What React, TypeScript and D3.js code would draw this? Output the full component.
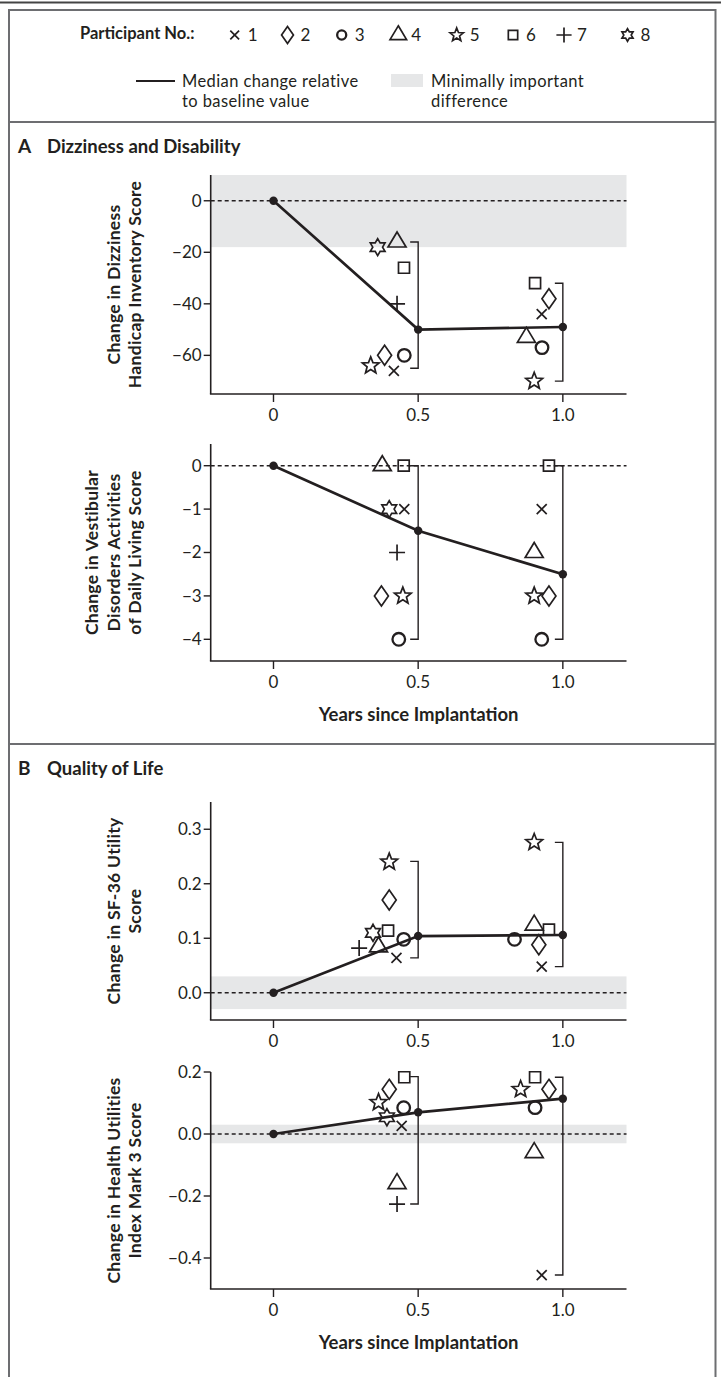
import React from "react";
import * as d3 from "d3";

// ---------- data ----------
const TIMEPOINTS = [0, 0.5, 1.0];
const X_TICKS = [0, 0.5, 1.0];
const X_TICK_LABELS = ["0", "0.5", "1.0"];
const PARTICIPANTS = [1, 2, 3, 4, 5, 6, 7, 8];

// Dizziness Handicap Inventory
const DHI_MEDIAN = [0, -50, -49];
const DHI_POINTS = [
  { p: 1, t: 0.416, v: -66 }, { p: 2, t: 0.384, v: -60 }, { p: 3, t: 0.452, v: -60 },
  { p: 4, t: 0.427, v: -16 }, { p: 5, t: 0.336, v: -64 }, { p: 6, t: 0.451, v: -26 },
  { p: 7, t: 0.427, v: -40 }, { p: 8, t: 0.36, v: -18 },
  { p: 1, t: 0.927, v: -44 }, { p: 2, t: 0.952, v: -38 }, { p: 3, t: 0.928, v: -57 },
  { p: 4, t: 0.874, v: -53 }, { p: 5, t: 0.901, v: -70 }, { p: 6, t: 0.904, v: -32 },
];
const DHI_RANGES = [{ t: 0.5, lo: -65, hi: -16 }, { t: 1.0, lo: -70, hi: -32 }];
const DHI_TICKS = [0, -20, -40, -60];
const DHI_MID = [-18, 10];

// Vestibular Disorders Activities of Daily Living
const VADL_MEDIAN = [0, -1.5, -2.5];
const VADL_POINTS = [
  { p: 4, t: 0.376, v: 0 }, { p: 6, t: 0.45, v: 0 }, { p: 8, t: 0.4, v: -1 },
  { p: 1, t: 0.452, v: -1 }, { p: 7, t: 0.427, v: -2 }, { p: 2, t: 0.373, v: -3 },
  { p: 5, t: 0.447, v: -3 }, { p: 3, t: 0.433, v: -4 },
  { p: 6, t: 0.952, v: 0 }, { p: 1, t: 0.927, v: -1 }, { p: 4, t: 0.901, v: -2 },
  { p: 5, t: 0.901, v: -3 }, { p: 2, t: 0.952, v: -3 }, { p: 3, t: 0.927, v: -4 },
];
const VADL_RANGES = [{ t: 0.5, lo: -4, hi: 0 }, { t: 1.0, lo: -4, hi: 0 }];
const VADL_TICKS = [0, -1, -2, -3, -4];

// SF-36 utility
const SF36_MEDIAN = [0, 0.104, 0.106];
const SF36_POINTS = [
  { p: 5, t: 0.4, v: 0.24 }, { p: 2, t: 0.4, v: 0.17 }, { p: 8, t: 0.344, v: 0.11 },
  { p: 6, t: 0.396, v: 0.114 }, { p: 3, t: 0.45, v: 0.098 }, { p: 4, t: 0.363, v: 0.084 },
  { p: 7, t: 0.296, v: 0.082 }, { p: 1, t: 0.425, v: 0.064 },
  { p: 5, t: 0.901, v: 0.276 }, { p: 4, t: 0.901, v: 0.124 }, { p: 6, t: 0.952, v: 0.116 },
  { p: 3, t: 0.833, v: 0.098 }, { p: 2, t: 0.917, v: 0.088 }, { p: 1, t: 0.927, v: 0.048 },
];
const SF36_RANGES = [{ t: 0.5, lo: 0.064, hi: 0.241 }, { t: 1.0, lo: 0.048, hi: 0.276 }];
const SF36_TICKS = [0.0, 0.1, 0.2, 0.3];
const SF36_MID = [-0.03, 0.03];

// Health Utilities Index Mark 3
const HUI_MEDIAN = [0, 0.07, 0.114];
const HUI_POINTS = [
  { p: 6, t: 0.452, v: 0.183 }, { p: 2, t: 0.4, v: 0.144 }, { p: 5, t: 0.363, v: 0.102 },
  { p: 3, t: 0.45, v: 0.085 }, { p: 8, t: 0.392, v: 0.054 }, { p: 1, t: 0.443, v: 0.026 },
  { p: 4, t: 0.427, v: -0.16 }, { p: 7, t: 0.427, v: -0.226 },
  { p: 6, t: 0.904, v: 0.183 }, { p: 5, t: 0.854, v: 0.144 }, { p: 2, t: 0.952, v: 0.144 },
  { p: 3, t: 0.904, v: 0.085 }, { p: 4, t: 0.901, v: -0.06 }, { p: 1, t: 0.927, v: -0.455 },
];
const HUI_RANGES = [{ t: 0.5, lo: -0.226, hi: 0.185 }, { t: 1.0, lo: -0.455, hi: 0.183 }];
const HUI_TICKS = [0.2, 0.0, -0.2, -0.4];
const HUI_MID = [-0.03, 0.03];

// ---------- style ----------
const INK = "#231f20";
const FRAME = "#6d6e71";
const SHADE = "#e6e7e8";
const FONT = "Lato, 'Open Sans', sans-serif";

function fmtTick(v: number, digits: number) {
  const s = Math.abs(v).toFixed(digits);
  return v < 0 ? "\u2212" + s : s;
}

function starPath(points: number, outer: number, inner: number) {
  const pts: string[] = [];
  for (let i = 0; i < points * 2; i++) {
    const r = i % 2 === 0 ? outer : inner;
    const a = (Math.PI * i) / points - Math.PI / 2;
    pts.push(`${(r * Math.cos(a)).toFixed(2)},${(r * Math.sin(a)).toFixed(2)}`);
  }
  return "M" + pts.join("L") + "Z";
}

function symbolPath(p: number, s: number) {
  switch (p) {
    case 1: {
      const h = 5 * s;
      return `M${-h},${-h}L${h},${h}M${-h},${h}L${h},${-h}`;
    }
    case 2: {
      const w = 7 * s, hh = 10 * s;
      return `M0,${-hh}L${w},0L0,${hh}L${-w},0Z`;
    }
    case 3: {
      const r = 6.3 * s;
      return `M${r},0A${r},${r} 0 1,1 ${-r},0A${r},${r} 0 1,1 ${r},0Z`;
    }
    case 4:
      return `M0,${-10 * s}L${9 * s},${5 * s}L${-9 * s},${5 * s}Z`;
    case 5:
      return starPath(5, 8.8 * s, 3.8 * s);
    case 6: {
      const h = 5.5 * s;
      return `M${-h},${-h}L${h},${-h}L${h},${h}L${-h},${h}Z`;
    }
    case 7: {
      const h = 8 * s;
      return `M${-h},0L${h},0M0,${-h}L0,${h}`;
    }
    default:
      return starPath(6, 8.5 * s, 4.9 * s);
  }
}

function Marker({ p, x, y, s = 1 }: { p: number; x: number; y: number; s?: number }) {
  return (
    <path
      d={symbolPath(p, s)}
      transform={`translate(${x},${y})`}
      fill="none"
      stroke={INK}
      strokeWidth={p === 3 ? 2.3 : 1.7}
      strokeLinejoin="miter"
    />
  );
}

// ---------- layout ----------
const X_LEFT = 210.7;
const X_RIGHT = 626.5;
const xScale = d3.scaleLinear().domain([-0.217, 1.22]).range([X_LEFT, X_RIGHT]);

type Pt = { p: number; t: number; v: number };
type Cfg = {
  top: number;
  bottom: number;
  domain: [number, number];
  ticks: number[];
  digits: number;
  median: number[];
  points: Pt[];
  ranges: { t: number; lo: number; hi: number }[];
  mid?: number[];
  label: string[];
  xTitle: boolean;
};

const PLOTS: Cfg[] = [
  {
    top: 175, bottom: 394, domain: [-75, 10], ticks: DHI_TICKS, digits: 0,
    median: DHI_MEDIAN, points: DHI_POINTS, ranges: DHI_RANGES, mid: DHI_MID,
    label: ["Change in Dizziness", "Handicap Inventory Score"], xTitle: false,
  },
  {
    top: 444, bottom: 661, domain: [-4.5, 0.5], ticks: VADL_TICKS, digits: 0,
    median: VADL_MEDIAN, points: VADL_POINTS, ranges: VADL_RANGES,
    label: ["Change in Vestibular", "Disorders Activities", "of Daily Living Score"], xTitle: true,
  },
  {
    top: 802, bottom: 1020, domain: [-0.05, 0.35], ticks: SF36_TICKS, digits: 1,
    median: SF36_MEDIAN, points: SF36_POINTS, ranges: SF36_RANGES, mid: SF36_MID,
    label: ["Change in SF-36 Utility", "Score"], xTitle: false,
  },
  {
    top: 1072, bottom: 1289, domain: [-0.5, 0.2], ticks: HUI_TICKS, digits: 1,
    median: HUI_MEDIAN, points: HUI_POINTS, ranges: HUI_RANGES, mid: HUI_MID,
    label: ["Change in Health Utilities", "Index Mark 3 Score"], xTitle: true,
  },
];

function Plot({ cfg }: { cfg: Cfg }) {
  const x = xScale;
  const y = d3.scaleLinear().domain(cfg.domain).range([cfg.bottom, cfg.top]);
  const line = d3
    .line<number>()
    .x((_, i) => x(TIMEPOINTS[i]))
    .y((d) => y(d));
  const cy = (cfg.top + cfg.bottom) / 2;
  const n = cfg.label.length;
  const lastX = 135;
  return (
    <g>
      {cfg.mid && (
        <rect
          x={X_LEFT}
          width={X_RIGHT - X_LEFT}
          y={y(cfg.mid[1])}
          height={y(cfg.mid[0]) - y(cfg.mid[1])}
          fill={SHADE}
        />
      )}
      <line x1={X_LEFT} x2={X_RIGHT} y1={y(0)} y2={y(0)} stroke={INK} strokeWidth={1.4} strokeDasharray="4,3" />
      {/* axes */}
      <line x1={X_LEFT} x2={X_LEFT} y1={cfg.top} y2={cfg.bottom} stroke={INK} strokeWidth={1.6} />
      <line x1={X_LEFT - 0.8} x2={X_RIGHT} y1={cfg.bottom} y2={cfg.bottom} stroke={INK} strokeWidth={1.6} />
      {cfg.ticks.map((t) => (
        <g key={"yt" + t}>
          <line x1={X_LEFT - 7} x2={X_LEFT} y1={y(t)} y2={y(t)} stroke={INK} strokeWidth={1.4} />
          <text x={X_LEFT - 9} y={y(t)} dy="0.35em" textAnchor="end" fontSize={17} fill={INK} fontFamily={FONT}>
            {fmtTick(t, cfg.digits)}
          </text>
        </g>
      ))}
      {X_TICKS.map((t, i) => (
        <g key={"xt" + t}>
          <line x1={x(t)} x2={x(t)} y1={cfg.bottom} y2={cfg.bottom + 8} stroke={INK} strokeWidth={1.4} />
          <text x={x(t)} y={cfg.bottom + 27} textAnchor="middle" fontSize={17} fill={INK} fontFamily={FONT}>
            {X_TICK_LABELS[i]}
          </text>
        </g>
      ))}
      {cfg.xTitle && (
        <text
          x={(X_LEFT + X_RIGHT) / 2}
          y={cfg.bottom + 60}
          textAnchor="middle"
          fontSize={18.5}
          fontWeight={700}
          fill={INK}
          fontFamily={FONT}
        >
          Years since Implantation
        </text>
      )}
      {cfg.label.map((l, i) => {
        const lx = lastX - (n - 1 - i) * 21.5;
        return (
          <text
            key={l}
            transform={`translate(${lx},${cy}) rotate(-90)`}
            dy="0.35em"
            textAnchor="middle"
            fontSize={17.5}
            fontWeight={700}
            fill={INK}
            fontFamily={FONT}
            letterSpacing={0.3}
          >
            {l}
          </text>
        );
      })}
      {/* range brackets */}
      {cfg.ranges.map((r) => {
        const bx = x(r.t);
        const y1 = y(r.hi), y2 = y(r.lo);
        return (
          <path
            key={"r" + r.t}
            d={`M${bx - 8},${y1}L${bx},${y1}L${bx},${y2}L${bx - 8},${y2}`}
            fill="none"
            stroke={INK}
            strokeWidth={1.4}
          />
        );
      })}
      {/* participants */}
      {cfg.points.map((d, i) => (
        <Marker key={"m" + i} p={d.p} x={x(d.t)} y={y(d.v)} />
      ))}
      {/* median */}
      <path d={line(cfg.median) || ""} fill="none" stroke={INK} strokeWidth={2.7} />
      {cfg.median.map((v, i) => (
        <circle key={"md" + i} cx={x(TIMEPOINTS[i])} cy={y(v)} r={4.2} fill={INK} />
      ))}
    </g>
  );
}

const LEGEND_MARK_X = [234.7, 287.5, 341.7, 398.3, 456.7, 513, 564, 627.5];
const LEGEND_MARK_S = [0.88, 0.85, 0.72, 0.92, 0.8, 0.85, 0.95, 0.75];

export default function App() {
  const legendText = { fontSize: 16.5, fill: INK, fontFamily: FONT, letterSpacing: 0.4 };
  return (
    <div style={{ position: "absolute", left: 0, top: 0, width: 721, height: 1377, background: "#fff" }}>
      <svg width={721} height={1377} style={{ display: "block" }}>
        <rect width={721} height={1377} fill="#fff" />
        {/* top rule and frame */}
        <line x1={0} x2={721} y1={2.5} y2={2.5} stroke="#444" strokeWidth={2.2} />
        <path d="M9,1377L9,10L715.5,10L715.5,1377" fill="none" stroke={FRAME} strokeWidth={2} />
        <line x1={9} x2={715.5} y1={122} y2={122} stroke={FRAME} strokeWidth={2} />
        <line x1={9} x2={715.5} y1={744} y2={744} stroke={FRAME} strokeWidth={2} />

        {/* legend */}
        <text x={80} y={39} fontSize={16.5} fontWeight={700} fill={INK} fontFamily={FONT}>
          Participant No.:
        </text>
        {PARTICIPANTS.map((p, i) => (
          <g key={"lg" + p}>
            <Marker p={p} x={LEGEND_MARK_X[i]} y={35} s={LEGEND_MARK_S[i]} />
            <text x={LEGEND_MARK_X[i] + 13} y={41} fontSize={17} fill={INK} fontFamily={FONT}>
              {p}
            </text>
          </g>
        ))}
        <line x1={136} x2={175} y1={81} y2={81} stroke={INK} strokeWidth={2.2} />
        <text x={182} y={86.5} {...legendText}>
          Median change relative
        </text>
        <text x={182} y={106.5} {...legendText}>
          to baseline value
        </text>
        <rect x={391} y={74} width={32} height={13} fill={SHADE} />
        <text x={431} y={86.5} {...legendText}>
          Minimally important
        </text>
        <text x={431} y={106.5} {...legendText}>
          difference
        </text>

        {/* panel headings */}
        <text x={18} y={152.5} fontSize={19} fontWeight={700} fill={INK} fontFamily={FONT}>
          A
        </text>
        <text x={47} y={152.5} fontSize={18.5} fontWeight={700} fill={INK} fontFamily={FONT}>
          Dizziness and Disability
        </text>
        <text x={18} y={774.5} fontSize={19} fontWeight={700} fill={INK} fontFamily={FONT}>
          B
        </text>
        <text x={47} y={774.5} fontSize={18.5} fontWeight={700} fill={INK} fontFamily={FONT}>
          Quality of Life
        </text>

        {PLOTS.map((cfg, i) => (
          <Plot key={i} cfg={cfg} />
        ))}
      </svg>
    </div>
  );
}
